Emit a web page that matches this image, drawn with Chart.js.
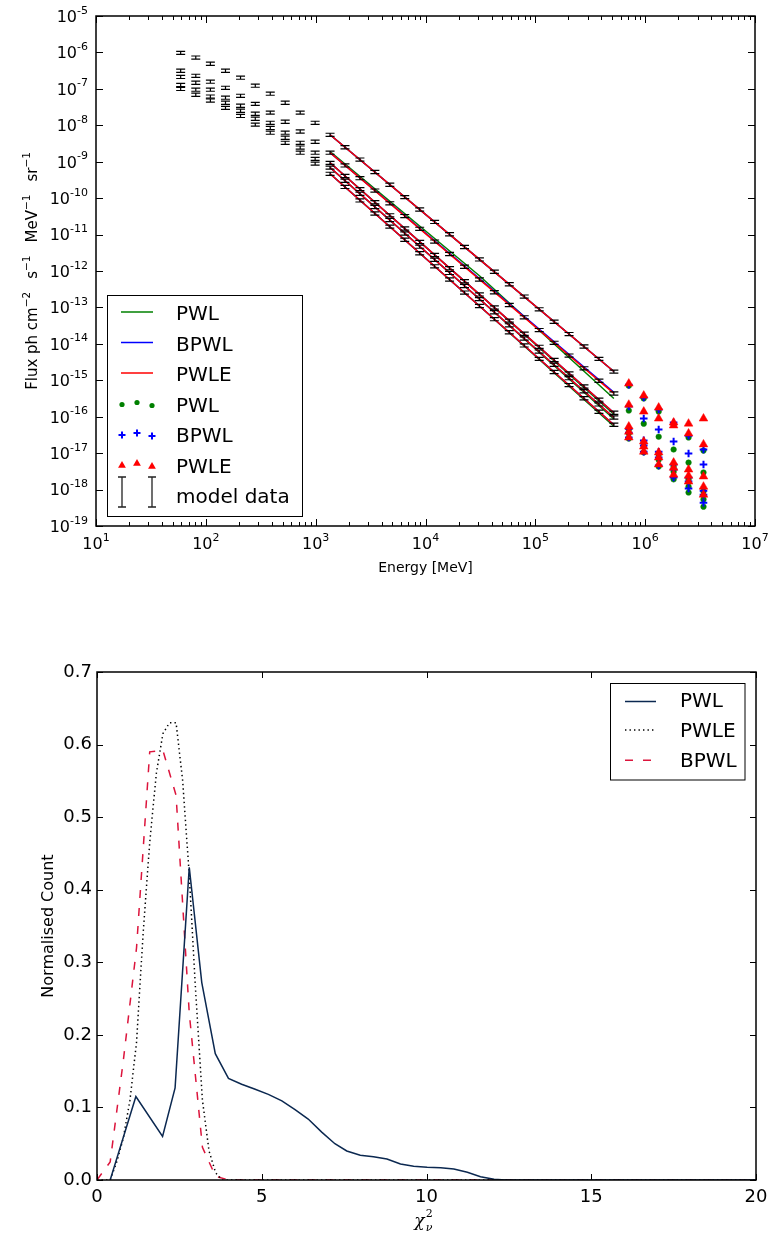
<!DOCTYPE html>
<html>
<head>
<meta charset="utf-8">
<script src="https://cdn.jsdelivr.net/npm/chart.js@4.4.1/dist/chart.umd.min.js"></script>
<style>
    html, body { margin: 0; padding: 0; background: #fff; }
    body { width: 769px; height: 1238px; position: relative; overflow: hidden; }
    canvas { position: absolute; left: 0; }
    #spectraChart { top: 0; }
    #chiChart { top: 600px; }
</style>
</head>
<body>
<canvas id="spectraChart" width="769" height="600"></canvas>
<canvas id="chiChart" width="769" height="638"></canvas>
<script>
// ---- top panel: spectra (energies in MeV, fluxes stored as log10) ----
const energies = [59, 81, 110, 151, 207, 282, 386, 528, 723, 989, 1352, 1849, 2529, 3459, 4732,
    6471, 8851, 12106, 16558, 22646, 30974, 42364, 57943, 79250, 108393, 148252, 202768,
    277332, 379315, 518800];
const extrapEnergies = [709578, 970510, 1327394, 1815516, 2483133, 3396253];
const fitEnergies = [1352, 30974, 518800];
const modelErrFrac = 0.1;

const dataLogS1 = [-6.01, -6.14, -6.31, -6.50, -6.69, -6.91, -7.13, -7.38, -7.65, -7.93,
    -8.26, -8.60, -8.94, -9.28, -9.63, -9.97, -10.31, -10.65, -10.99, -11.34,
    -11.68, -12.02, -12.36, -12.70, -13.05, -13.39, -13.73, -14.07, -14.41, -14.76];
const dataLogS2 = [-6.50, -6.64, -6.80, -6.97, -7.19, -7.41, -7.65, -7.90, -8.17, -8.45,
    -8.75, -9.10, -9.45, -9.79, -10.14, -10.49, -10.84, -11.19, -11.53, -11.88,
    -12.23, -12.58, -12.93, -13.27, -13.62, -13.97, -14.32, -14.67, -15.01, -15.36];
const dataLogS3 = [-6.67, -6.83, -7.02, -7.24, -7.46, -7.68, -7.93, -8.20, -8.48, -8.75,
    -9.03, -9.39, -9.75, -10.11, -10.47, -10.83, -11.20, -11.56, -11.92, -12.28,
    -12.64, -13.00, -13.36, -13.72, -14.08, -14.44, -14.81, -15.17, -15.53, -15.89];
const dataLogS4 = [-6.89, -7.02, -7.21, -7.38, -7.60, -7.82, -8.07, -8.34, -8.61, -8.92,
    -9.16, -9.52, -9.88, -10.24, -10.60, -10.97, -11.33, -11.69, -12.05, -12.41,
    -12.77, -13.13, -13.49, -13.85, -14.21, -14.57, -14.94, -15.30, -15.66, -16.02];
const dataLogS5 = [-7.00, -7.16, -7.32, -7.52, -7.74, -7.98, -8.20, -8.48, -8.75, -9.05,
    -9.33, -9.69, -10.06, -10.42, -10.78, -11.14, -11.51, -11.87, -12.23, -12.59,
    -12.96, -13.32, -13.68, -14.04, -14.41, -14.77, -15.13, -15.49, -15.86, -16.22];
const modelLogFlux = [dataLogS1, dataLogS2, dataLogS3, dataLogS4, dataLogS5];

// fitted curves, sampled at fitEnergies
const pwlFitLog = [[-8.26, -11.68, -14.76], [-8.72, -12.13, -15.50], [-9.03, -12.64, -15.93],
    [-9.16, -12.77, -16.06], [-9.33, -12.96, -16.26]];
const bpwlFitLog = [[-8.26, -11.68, -14.76], [-8.75, -12.21, -15.33], [-9.03, -12.64, -15.89],
    [-9.16, -12.77, -16.02], [-9.33, -12.96, -16.22]];
const pwleFitLog = [[-8.26, -11.68, -14.76], [-8.75, -12.23, -15.36], [-9.03, -12.64, -15.89],
    [-9.16, -12.77, -16.02], [-9.33, -12.96, -16.22]];

// model predictions beyond the data, at extrapEnergies
const pwlExtrapLog = [[-15.15, -15.50, -15.86, -16.22, -16.57, -16.93],
    [-15.83, -16.19, -16.55, -16.90, -17.26, -17.53],
    [-16.35, -16.71, -17.04, -17.37, -17.72, -18.05],
    [-16.46, -16.82, -17.18, -17.51, -17.92, -18.27],
    [-16.60, -16.98, -17.37, -17.72, -18.08, -18.47]];
const bpwlExtrapLog = [[-15.12, -15.47, -15.80, -16.16, -16.52, -16.90],
    [-15.72, -16.05, -16.35, -16.68, -17.01, -17.31],
    [-16.33, -16.65, -16.96, -17.31, -17.67, -18.03],
    [-16.44, -16.79, -17.12, -17.45, -17.78, -18.14],
    [-16.57, -16.96, -17.34, -17.67, -17.97, -18.36]];
const pwleExtrapLog = [[-15.09, -15.42, -15.75, -16.16, -16.19, -16.05],
    [-15.67, -15.86, -16.05, -16.24, -16.46, -16.76],
    [-16.27, -16.68, -16.98, -17.26, -17.45, -17.64],
    [-16.41, -16.82, -17.12, -17.40, -17.62, -17.92],
    [-16.57, -16.96, -17.31, -17.59, -17.78, -18.14]];

const topXTickExp = [1, 2, 3, 4, 5, 6, 7];
const topYTickExp = [-19, -18, -17, -16, -15, -14, -13, -12, -11, -10, -9, -8, -7, -6, -5];
const minorMultipliers = [2, 3, 4, 5, 6, 7, 8, 9];

// ---- bottom panel: reduced chi-square distributions ----
const chiPwlX = [0.40, 1.18, 1.99, 2.37, 2.80, 3.18, 3.59, 3.99, 4.39, 4.80, 5.20, 5.61, 6.01, 6.41,
    6.82, 7.22, 7.58, 7.99, 8.39, 8.80, 9.21, 9.61, 10.02, 10.43, 10.83, 11.24, 11.64, 12.05, 12.40, 20];
const chiPwlY = [0, 0.115, 0.060, 0.127, 0.431, 0.272, 0.174, 0.140, 0.132, 0.125, 0.118, 0.109, 0.097, 0.084,
    0.066, 0.050, 0.040, 0.034, 0.032, 0.029, 0.022, 0.019, 0.0175, 0.017, 0.015, 0.0106, 0.0046, 0.001, 0, 0];
const chiPwleX = [0, 0.4, 0.6, 0.8, 1.0, 1.2, 1.4, 1.6, 1.8, 2.0, 2.2, 2.4, 2.6, 2.8, 3.0, 3.2, 3.4, 3.6, 3.8, 20];
const chiPwleY = [0, 0, 0.025, 0.058, 0.11, 0.19, 0.34, 0.465, 0.56, 0.615, 0.63, 0.63, 0.55, 0.42, 0.255,
    0.11, 0.04, 0.01, 0, 0];
const chiBpwlX = [0, 0.4, 0.8, 1.2, 1.6, 2.0, 2.4, 2.8, 3.2, 3.6, 4.0, 20];
const chiBpwlY = [0, 0.025, 0.165, 0.32, 0.59, 0.592, 0.53, 0.23, 0.045, 0.005, 0, 0];

const chiXTicks = [0, 5, 10, 15, 20];
const chiYTicks = [0, 0.1, 0.2, 0.3, 0.4, 0.5, 0.6, 0.7];

const FONT = '"DejaVu Sans", sans-serif';
const GREEN = '#008000', BLUE = '#0000ff', RED = '#ff0000';
const NAVY = '#0b2850', CRIMSON = '#dc143c';

const logPoints = (xs, logs) => xs.map((x, i) => ({ x, y: Math.pow(10, logs[i]) }));
const xyPoints = (xs, ys) => xs.map((x, i) => ({ x, y: ys[i] }));

function drawPow(ctx, exp, x, yc, align) {
    const sup = String(exp);
    ctx.font = `16px ${FONT}`;
    const wb = ctx.measureText('10').width;
    ctx.font = `11px ${FONT}`;
    const ws = ctx.measureText(sup).width;
    const x0 = align === 'right' ? x - wb - ws : x - (wb + ws) / 2;
    ctx.textAlign = 'left';
    ctx.textBaseline = 'alphabetic';
    ctx.font = `16px ${FONT}`;
    ctx.fillText('10', x0, yc + 5.8);
    ctx.font = `11px ${FONT}`;
    ctx.fillText(sup, x0 + wb, yc - 2.5);
}

// text made of runs: {text, size, rise, gap}
function drawRich(ctx, parts, cx, baseY, rotate) {
    ctx.save();
    ctx.translate(cx, baseY);
    if (rotate) ctx.rotate(-Math.PI / 2);
    ctx.textAlign = 'left';
    ctx.textBaseline = 'alphabetic';
    let total = 0;
    const widths = parts.map(p => {
        ctx.font = `${p.style || ''} ${p.size}px ${p.family || FONT}`;
        const w = ctx.measureText(p.text).width;
        total += w + (p.gap || 0);
        return w;
    });
    let pos = -total / 2;
    parts.forEach((p, i) => {
        pos += p.gap || 0;
        ctx.font = `${p.style || ''} ${p.size}px ${p.family || FONT}`;
        ctx.fillText(p.text, pos, -(p.rise || 0));
        pos += widths[i];
    });
    ctx.restore();
}

function hline(ctx, x1, x2, y) {
    ctx.beginPath();
    ctx.moveTo(x1, y);
    ctx.lineTo(x2, y);
    ctx.stroke();
}

const errorBars = {
    id: 'errorBars',
    afterDatasetsDraw(chart) {
        const { ctx, scales: { x, y } } = chart;
        ctx.save();
        ctx.strokeStyle = '#000';
        ctx.lineWidth = 1.2;
        modelLogFlux.forEach(logs => {
            logs.forEach((lf, i) => {
                const v = Math.pow(10, lf);
                const px = x.getPixelForValue(energies[i]);
                const yTop = y.getPixelForValue(v * (1 + modelErrFrac));
                const yBot = y.getPixelForValue(v * (1 - modelErrFrac));
                ctx.beginPath();
                ctx.moveTo(px, yTop); ctx.lineTo(px, yBot);
                ctx.moveTo(px - 4.5, yTop); ctx.lineTo(px + 4.5, yTop);
                ctx.moveTo(px - 4.5, yBot); ctx.lineTo(px + 4.5, yBot);
                ctx.stroke();
            });
        });
        ctx.restore();
    }
};

const spectraDecor = {
    id: 'spectraDecor',
    afterDraw(chart) {
        const { ctx, chartArea: a, scales: { x, y } } = chart;
        ctx.save();
        ctx.strokeStyle = '#000';
        ctx.lineWidth = 1;
        ctx.beginPath();
        topXTickExp.forEach((e, k) => {
            const px = Math.round(x.getPixelForValue(Math.pow(10, e))) + 0.5;
            ctx.moveTo(px, a.bottom); ctx.lineTo(px, a.bottom - 7);
            ctx.moveTo(px, a.top); ctx.lineTo(px, a.top + 7);
            if (k === topXTickExp.length - 1) return;
            minorMultipliers.forEach(m => {
                const mx = Math.round(x.getPixelForValue(m * Math.pow(10, e))) + 0.5;
                ctx.moveTo(mx, a.bottom); ctx.lineTo(mx, a.bottom - 4);
                ctx.moveTo(mx, a.top); ctx.lineTo(mx, a.top + 4);
            });
        });
        topYTickExp.forEach(e => {
            const py = Math.round(y.getPixelForValue(Math.pow(10, e))) + 0.5;
            ctx.moveTo(a.left, py); ctx.lineTo(a.left + 7, py);
            ctx.moveTo(a.right, py); ctx.lineTo(a.right - 7, py);
        });
        ctx.stroke();
        ctx.lineWidth = 1.5;
        ctx.strokeRect(a.left, a.top, a.right - a.left, a.bottom - a.top);

        ctx.fillStyle = '#000';
        topXTickExp.forEach(e => drawPow(ctx, e, x.getPixelForValue(Math.pow(10, e)), a.bottom + 17, 'center'));
        topYTickExp.forEach(e => drawPow(ctx, e, a.left - 8, y.getPixelForValue(Math.pow(10, e)), 'right'));

        ctx.font = `14px ${FONT}`;
        ctx.textAlign = 'center';
        ctx.textBaseline = 'alphabetic';
        ctx.fillText('Energy [MeV]', (a.left + a.right) / 2, 572);

        const sup = t => ({ text: t, size: 10.5, rise: 6.5 });
        drawRich(ctx, [
            { text: 'Flux ph cm', size: 15 }, sup('\u22122'),
            { text: 's', size: 15, gap: 13 }, sup('\u22121'),
            { text: 'MeV', size: 15, gap: 13 }, sup('\u22121'),
            { text: 'sr', size: 15, gap: 13 }, sup('\u22121')
        ], 36.5, (a.top + a.bottom) / 2, true);

        // legend
        ctx.lineWidth = 1;
        ctx.strokeStyle = '#000';
        ctx.strokeRect(107.5, 295.5, 195, 221);
        const rows = [320, 350.5, 381, 411.5, 442, 472.5, 503];
        const labels = ['PWL', 'BPWL', 'PWLE', 'PWL', 'BPWL', 'PWLE', 'model data'];
        ctx.lineWidth = 1.5;
        [GREEN, BLUE, RED].forEach((c, i) => {
            ctx.strokeStyle = c;
            hline(ctx, 121, 153, rows[i] - 8);
        });
        const offs = [[122, 0], [137, -2], [152, 1]];
        ctx.fillStyle = GREEN;
        offs.forEach(([ox, dy]) => {
            ctx.beginPath();
            ctx.arc(ox, rows[3] - 7 + dy, 2.6, 0, Math.PI * 2);
            ctx.fill();
        });
        ctx.strokeStyle = BLUE;
        ctx.lineWidth = 2;
        offs.forEach(([ox, dy]) => {
            const cy = rows[4] - 7 + dy;
            ctx.beginPath();
            ctx.moveTo(ox - 3.5, cy); ctx.lineTo(ox + 3.5, cy);
            ctx.moveTo(ox, cy - 3.5); ctx.lineTo(ox, cy + 3.5);
            ctx.stroke();
        });
        ctx.fillStyle = RED;
        offs.forEach(([ox, dy]) => {
            const cy = rows[5] - 7 + dy;
            ctx.beginPath();
            ctx.moveTo(ox, cy - 4.5);
            ctx.lineTo(ox + 3.9, cy + 2.3);
            ctx.lineTo(ox - 3.9, cy + 2.3);
            ctx.closePath();
            ctx.fill();
        });
        ctx.strokeStyle = '#222';
        ctx.lineWidth = 1.3;
        [122, 152].forEach(ox => {
            ctx.beginPath();
            ctx.moveTo(ox, 477); ctx.lineTo(ox, 507);
            ctx.moveTo(ox - 4, 477); ctx.lineTo(ox + 4, 477);
            ctx.moveTo(ox - 4, 507); ctx.lineTo(ox + 4, 507);
            ctx.stroke();
        });
        ctx.fillStyle = '#000';
        ctx.font = `20px ${FONT}`;
        ctx.textAlign = 'left';
        labels.forEach((t, i) => ctx.fillText(t, 176, rows[i]));
        ctx.restore();
    }
};

const chiDecor = {
    id: 'chiDecor',
    afterDraw(chart) {
        const { ctx, chartArea: a, scales: { x, y } } = chart;
        ctx.save();
        ctx.strokeStyle = '#000';
        ctx.lineWidth = 1;
        ctx.beginPath();
        chiXTicks.forEach(v => {
            const px = Math.round(x.getPixelForValue(v)) + 0.5;
            ctx.moveTo(px, a.bottom); ctx.lineTo(px, a.bottom - 6);
            ctx.moveTo(px, a.top); ctx.lineTo(px, a.top + 6);
        });
        chiYTicks.forEach(v => {
            const py = Math.round(y.getPixelForValue(v)) + 0.5;
            ctx.moveTo(a.left, py); ctx.lineTo(a.left + 6, py);
            ctx.moveTo(a.right, py); ctx.lineTo(a.right - 6, py);
        });
        ctx.stroke();
        ctx.lineWidth = 1.5;
        ctx.strokeRect(a.left, a.top, a.right - a.left, a.bottom - a.top);

        ctx.fillStyle = '#000';
        ctx.font = `18px ${FONT}`;
        ctx.textBaseline = 'middle';
        ctx.textAlign = 'center';
        chiXTicks.forEach(v => ctx.fillText(String(v), x.getPixelForValue(v), a.bottom + 17));
        ctx.textAlign = 'right';
        chiYTicks.forEach(v => ctx.fillText(v.toFixed(1), a.left - 5, y.getPixelForValue(v)));

        drawRich(ctx, [{ text: 'Normalised Count', size: 16 }], 53, (a.top + a.bottom) / 2, true);

        // chi^2_nu label
        const cx = (a.left + a.right) / 2 - 4;
        ctx.textAlign = 'left';
        ctx.textBaseline = 'alphabetic';
        ctx.font = `italic 17px "DejaVu Serif", serif`;
        const wc = ctx.measureText('\u03c7').width;
        ctx.fillText('\u03c7', cx - wc / 2 - 3, 1226 - 600);
        ctx.font = `11px "DejaVu Serif", serif`;
        ctx.fillText('2', cx + wc / 2 - 2, 1217 - 600);
        ctx.font = `italic 11px "DejaVu Serif", serif`;
        ctx.fillText('\u03bd', cx + wc / 2 - 2, 1231 - 600);

        // legend
        ctx.lineWidth = 1;
        ctx.strokeStyle = '#000';
        ctx.strokeRect(610.5, 683.5 - 600, 134.5, 96.5);
        const rows = [706.5, 737, 767.3].map(v => v - 600);
        ctx.lineWidth = 1.5;
        ctx.strokeStyle = NAVY;
        hline(ctx, 625, 656, rows[0] - 5);
        ctx.strokeStyle = '#000';
        ctx.setLineDash([1.4, 3.1]);
        hline(ctx, 625, 656, rows[1] - 7);
        ctx.strokeStyle = CRIMSON;
        ctx.setLineDash([8, 10]);
        hline(ctx, 625, 656, rows[2] - 7);
        ctx.setLineDash([]);
        ctx.fillStyle = '#000';
        ctx.font = `20px ${FONT}`;
        ['PWL', 'PWLE', 'BPWL'].forEach((t, i) => ctx.fillText(t, 680, rows[i]));
        ctx.restore();
    }
};

function fitLines(fits, label, color, order) {
    return fits.map(logs => ({
        label, data: logPoints(fitEnergies, logs), showLine: true,
        borderColor: color, borderWidth: 1.5, pointRadius: 0, fill: false, order
    }));
}

function extrapMarkers(sets, label, style) {
    return sets.map(logs => Object.assign({
        label, data: logPoints(extrapEnergies, logs), showLine: false
    }, style));
}

const spectraDatasets = [
    ...fitLines(pwlFitLog, 'PWL', GREEN, 9),
    ...fitLines(bpwlFitLog, 'BPWL', BLUE, 8),
    ...fitLines(pwleFitLog, 'PWLE', RED, 7),
    ...extrapMarkers(pwlExtrapLog, 'PWL', { pointStyle: 'circle', pointRadius: 2.8, backgroundColor: GREEN, borderColor: GREEN, borderWidth: 0.5, order: 6 }),
    ...extrapMarkers(bpwlExtrapLog, 'BPWL', { pointStyle: 'cross', pointRadius: 3.8, borderColor: BLUE, borderWidth: 2, order: 5 }),
    ...extrapMarkers(pwleExtrapLog, 'PWLE', { pointStyle: 'triangle', pointRadius: 5, backgroundColor: RED, borderColor: RED, borderWidth: 0.5, order: 4 })
];

new Chart(document.getElementById('spectraChart'), {
    type: 'scatter',
    data: { datasets: spectraDatasets },
    options: {
        responsive: false,
        animation: false,
        events: [],
        layout: { padding: { left: 96, top: 16, right: 14, bottom: 74 } },
        plugins: { legend: { display: false }, tooltip: { enabled: false } },
        scales: {
            x: { type: 'logarithmic', min: 10, max: 1e7, display: false },
            y: { type: 'logarithmic', min: 1e-19, max: 1e-5, display: false }
        }
    },
    plugins: [errorBars, spectraDecor]
});

new Chart(document.getElementById('chiChart'), {
    type: 'scatter',
    data: {
        datasets: [
            { label: 'PWL', data: xyPoints(chiPwlX, chiPwlY), showLine: true, borderColor: NAVY, borderWidth: 1.5, pointRadius: 0 },
            { label: 'PWLE', data: xyPoints(chiPwleX, chiPwleY), showLine: true, borderColor: '#000', borderWidth: 1.5, borderDash: [1.4, 3.1], pointRadius: 0 },
            { label: 'BPWL', data: xyPoints(chiBpwlX, chiBpwlY), showLine: true, borderColor: CRIMSON, borderWidth: 1.5, borderDash: [8, 10], pointRadius: 0 }
        ]
    },
    options: {
        responsive: false,
        animation: false,
        events: [],
        layout: { padding: { left: 97, top: 72, right: 13, bottom: 58 } },
        plugins: { legend: { display: false }, tooltip: { enabled: false } },
        scales: {
            x: { type: 'linear', min: 0, max: 20, display: false },
            y: { type: 'linear', min: 0, max: 0.7, display: false }
        }
    },
    plugins: [chiDecor]
});
</script>
</body>
</html>
